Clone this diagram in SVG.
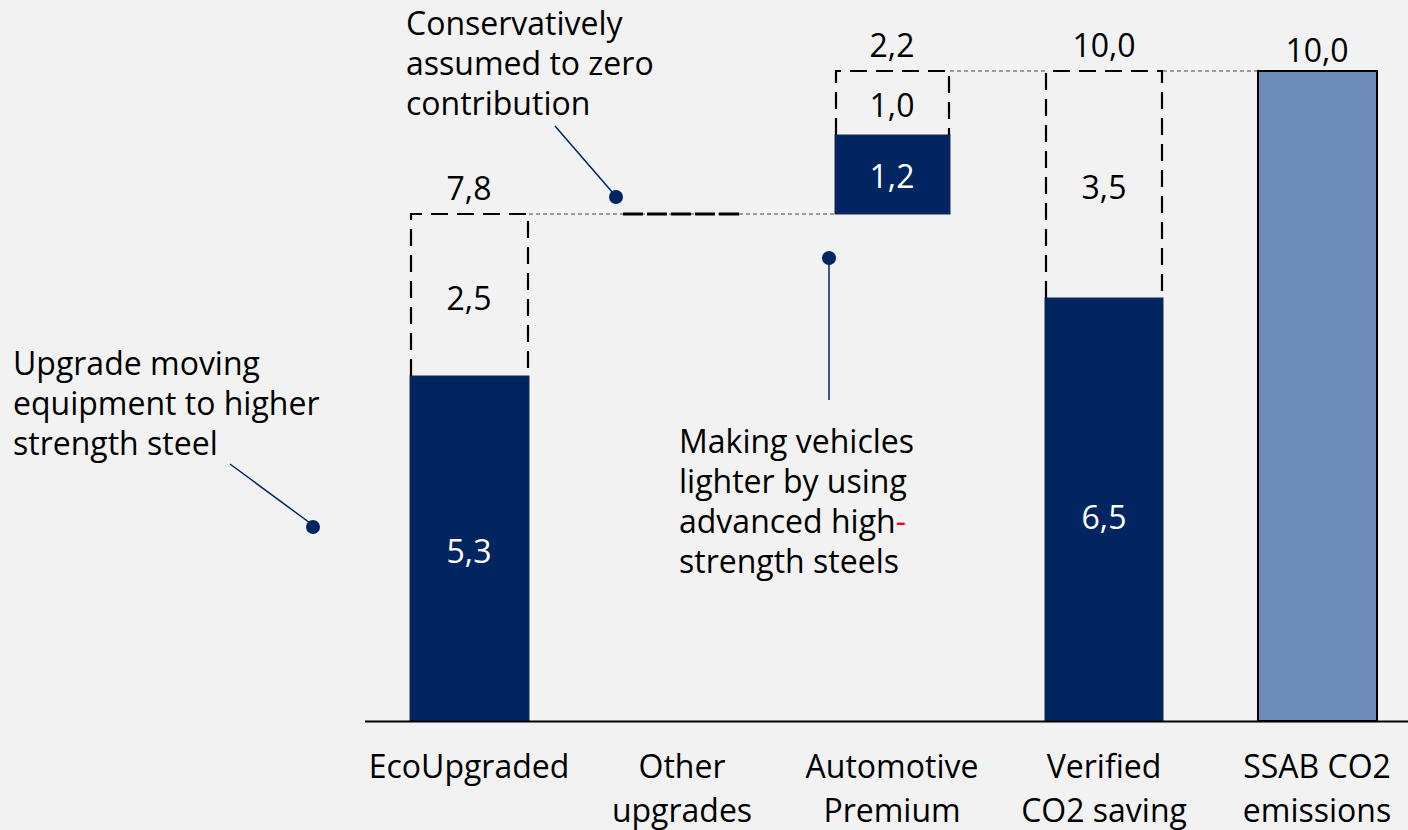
<svg xmlns="http://www.w3.org/2000/svg" width="1408" height="830" viewBox="0 0 1408 830">
<style>
text{font-family:"Open Sans","Noto Sans",sans-serif;font-size:32px;fill:#000}
.c{text-anchor:middle}
.w{fill:#fff}
.dark{fill:#002561;stroke:#1a2a4a;stroke-width:1}
.dash{fill:none;stroke:#000;stroke-width:2.2;stroke-dasharray:17 9}
.conn{fill:none;stroke:#808080;stroke-width:1.5;stroke-dasharray:4 3}
.call{stroke:#002561;stroke-width:1.5;fill:none}
.dot{fill:#002561}
</style>
<rect width="1408" height="830" fill="#f2f2f2"/>
<g id="connectors">
<line class="conn" x1="529" y1="214" x2="835" y2="214"/>
<line class="conn" x1="950" y1="71" x2="1045" y2="71"/>
<line class="conn" x1="1163" y1="71" x2="1258" y2="71"/>
<line class="call" x1="230" y1="464" x2="310" y2="523"/>
<circle class="dot" cx="313" cy="527" r="7"/>
<line class="call" x1="555" y1="126" x2="613" y2="193"/>
<circle class="dot" cx="616" cy="197" r="7"/>
<line class="call" x1="829" y1="258" x2="829" y2="400"/>
<circle class="dot" cx="829" cy="258" r="7"/>
</g>
<g id="bar-ecoupgraded">
<rect class="dark" x="410" y="376" width="119" height="345"/>
<path class="dash" d="M411,376 V214 H528 V376"/>
<text class="c" x="469" y="200">7,8</text>
<text class="c" x="469" y="310">2,5</text>
<text class="c w" x="469" y="563">5,3</text>
</g>
<g id="bar-other">
<line x1="623" y1="214" x2="742" y2="214" stroke="#000" stroke-width="3" stroke-dasharray="20 4"/>
</g>
<g id="bar-automotive">
<rect class="dark" x="835" y="135" width="115" height="79"/>
<path class="dash" d="M836,135 V71 H949 V135"/>
<text class="c" x="892" y="57">2,2</text>
<text class="c" x="892" y="117">1,0</text>
<text class="c w" x="892" y="188">1,2</text>
</g>
<g id="bar-verified">
<rect class="dark" x="1045" y="298" width="118" height="423"/>
<path class="dash" d="M1046,298 V71 H1162 V298"/>
<text class="c" x="1104" y="57">10,0</text>
<text class="c" x="1104" y="199">3,5</text>
<text class="c w" x="1104" y="529">6,5</text>
</g>
<g id="bar-ssab">
<rect x="1258" y="71" width="119" height="650" fill="#6d8cb9" stroke="#000" stroke-width="2"/>
<text class="c" x="1317" y="62">10,0</text>
</g>
<g id="axis">
<line x1="365" y1="721.5" x2="1408" y2="721.5" stroke="#000" stroke-width="2"/>
</g>
<g id="labels">
<text class="c" x="469" y="778">EcoUpgraded</text>
<text class="c" x="682" y="778">Other</text>
<text class="c" x="682" y="822">upgrades</text>
<text class="c" x="892" y="778">Automotive</text>
<text class="c" x="892" y="822">Premium</text>
<text class="c" x="1104" y="778">Verified</text>
<text class="c" x="1104" y="822">CO2 saving</text>
<text class="c" x="1317" y="778">SSAB CO2</text>
<text class="c" x="1317" y="822">emissions</text>
</g>
<g id="callout-upgrade">
<text x="13" y="375">Upgrade moving</text>
<text x="13" y="415">equipment to higher</text>
<text x="13" y="455">strength steel</text>
</g>
<g id="callout-conservative">
<text x="406" y="35">Conservatively</text>
<text x="406" y="75">assumed to zero</text>
<text x="406" y="115">contribution</text>
</g>
<g id="callout-automotive">
<text x="679" y="453">Making vehicles</text>
<text x="679" y="493">lighter by using</text>
<text x="679" y="533">advanced high<tspan fill="#ff0000">-</tspan></text>
<text x="679" y="573">strength steels</text>
</g>
</svg>
